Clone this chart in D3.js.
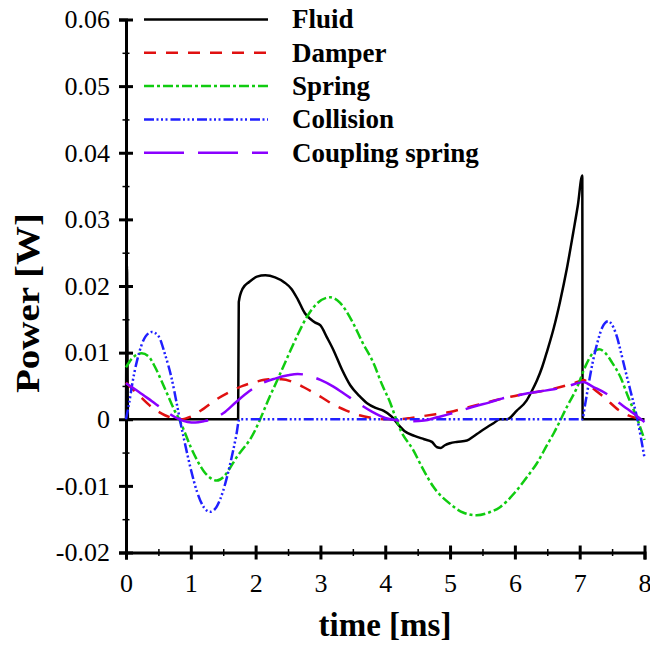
<!DOCTYPE html>
<html>
<head>
<meta charset="utf-8">
<script src="https://cdn.jsdelivr.net/npm/d3@7"></script>
<style>
  body { margin: 0; background: #fff; }
  svg { display: block; }
</style>
</head>
<body>
<script>
// series names and colours
var names = ['Fluid', 'Damper', 'Spring', 'Collision', 'Coupling spring'];

// time [ms] / power [W]
var fluidT = [0, 0.015, 0.03, 1.73, 1.74, 1.8, 1.9, 2.02, 2.15, 2.3, 2.45, 2.55, 2.65, 2.76, 2.85, 2.92, 3.0, 3.1, 3.2, 3.33, 3.46, 3.6, 3.72, 3.85, 3.97, 4.1, 4.2, 4.3, 4.45, 4.6, 4.72, 4.8, 4.86, 4.92, 5.0, 5.1, 5.26, 5.36, 5.46, 5.57, 5.67, 5.77, 5.88, 6.03, 6.18, 6.26, 6.34, 6.42, 6.5, 6.6, 6.7, 6.8, 6.9, 6.97, 7.04, 7.045, 8];
var fluidP = [0, 0.023, 0, 0, 0.0176, 0.0196, 0.0206, 0.0214, 0.0216, 0.0213, 0.0205, 0.0196, 0.018, 0.0159, 0.015, 0.0145, 0.0141, 0.0123, 0.0104, 0.0075, 0.0051, 0.0035, 0.0024, 0.0017, 0.0013, 0.0004, -0.0008, -0.0018, -0.0025, -0.003, -0.0034, -0.0042, -0.0043, -0.0039, -0.0036, -0.0034, -0.0032, -0.0026, -0.0019, -0.0012, -0.0006, 0, 0, 0.0013, 0.0028, 0.0042, 0.0058, 0.0078, 0.0103, 0.0137, 0.0178, 0.0225, 0.028, 0.032, 0.0366, 0, 0];

var damperT = [0, 0.2, 0.4, 0.6, 0.75, 0.85, 1.0, 1.2, 1.4, 1.6, 1.8, 2.0, 2.2, 2.4, 2.6, 2.8, 3.0, 3.2, 3.4, 3.6, 3.8, 4.0, 4.2, 4.4, 4.6, 4.8, 5.0, 5.2, 5.4, 5.6, 5.8, 6.0, 6.2, 6.4, 6.6, 6.8, 7.0, 7.06, 7.2, 7.4, 7.6, 7.8, 8.0];
var damperP = [0.0055, 0.0036, 0.0018, 0.0006, 0.0001, 0, 0.0004, 0.0016, 0.003, 0.0041, 0.005, 0.0056, 0.006, 0.006, 0.0055, 0.0045, 0.0034, 0.0022, 0.0013, 0.0006, 0.0002, 0, 0, 0.0002, 0.0005, 0.0008, 0.0011, 0.0016, 0.0021, 0.0026, 0.0031, 0.0035, 0.0039, 0.0042, 0.0046, 0.0051, 0.0057, 0.0059, 0.0047, 0.0031, 0.0014, 0.0004, 0];

var springT = [0, 0.1, 0.24, 0.35, 0.45, 0.55, 0.65, 0.75, 0.82, 0.9, 1.0, 1.1, 1.2, 1.3, 1.4, 1.5, 1.6, 1.7, 1.8, 1.91, 2.0, 2.07, 2.2, 2.35, 2.5, 2.65, 2.8, 2.95, 3.15, 3.3, 3.5, 3.65, 3.82, 3.95, 4.08, 4.15, 4.23, 4.43, 4.6, 4.74, 5.0, 5.2, 5.41, 5.6, 5.77, 6.0, 6.2, 6.34, 6.5, 6.6, 6.8, 6.96, 7.1, 7.2, 7.3, 7.4, 7.5, 7.63, 7.75, 7.89, 8.0];
var springP = [0.0078, 0.0092, 0.0099, 0.0094, 0.0078, 0.0057, 0.0035, 0.0013, 0, -0.0018, -0.0042, -0.0062, -0.0078, -0.0088, -0.0092, -0.0087, -0.0074, -0.0058, -0.0045, -0.0031, -0.0015, 0, 0.003, 0.0062, 0.0095, 0.0127, 0.0155, 0.0174, 0.0183, 0.0175, 0.0145, 0.0115, 0.0084, 0.0052, 0.0024, 0.0005, -0.0015, -0.0046, -0.0078, -0.0101, -0.0127, -0.014, -0.0144, -0.014, -0.0132, -0.011, -0.0085, -0.0066, -0.0038, -0.0021, 0.0018, 0.0048, 0.0082, 0.0099, 0.0105, 0.0099, 0.0085, 0.0063, 0.0033, 0, -0.0031];

var collisionT = [0, 0.05, 0.1, 0.2, 0.3, 0.4, 0.5, 0.6, 0.7, 0.8, 0.83, 0.9, 1.0, 1.1, 1.2, 1.3, 1.4, 1.5, 1.6, 1.7, 1.75, 2.5, 4.0, 5.5, 7.04, 7.08, 7.14, 7.2, 7.27, 7.35, 7.44, 7.52, 7.58, 7.63, 7.7, 7.78, 7.89, 8.0];
var collisionP = [0, 0.0025, 0.0055, 0.0099, 0.0124, 0.0131, 0.0125, 0.0098, 0.0063, 0.0015, 0, -0.0032, -0.0075, -0.011, -0.0132, -0.0139, -0.0131, -0.0107, -0.007, -0.0025, 0, 0, 0, 0, 0, 0.002, 0.0054, 0.0085, 0.0114, 0.0138, 0.0147, 0.0138, 0.0122, 0.0103, 0.0075, 0.0044, 0, -0.0058];

var couplingT = [0, 0.2, 0.4, 0.6, 0.8, 0.95, 1.07, 1.2, 1.35, 1.5, 1.7, 1.9, 2.1, 2.3, 2.5, 2.65, 2.8, 3.0, 3.2, 3.4, 3.6, 3.8, 4.0, 4.2, 4.4, 4.6, 4.8, 5.0, 5.2, 5.4, 5.6, 5.8, 6.0, 6.2, 6.4, 6.6, 6.8, 7.0, 7.06, 7.2, 7.4, 7.6, 7.8, 8.0];
var couplingP = [0.0054, 0.0041, 0.0027, 0.0013, 0.0001, -0.0004, -0.0005, -0.0003, 0.0001, 0.0009, 0.0026, 0.0042, 0.0054, 0.0061, 0.0066, 0.0068, 0.0066, 0.0059, 0.0049, 0.0036, 0.0023, 0.0011, 0.0002, -0.0002, -0.0003, -0.0002, 0.0003, 0.0008, 0.0014, 0.002, 0.0025, 0.0031, 0.0035, 0.0039, 0.0042, 0.0045, 0.0049, 0.0055, 0.0056, 0.0049, 0.0039, 0.0025, 0.0011, -0.0004];

// ticks
var xTicks = [0, 1, 2, 3, 4, 5, 6, 7, 8];
var xMinor = [0.5, 1.5, 2.5, 3.5, 4.5, 5.5, 6.5, 7.5];
var yTicks = [0.06, 0.05, 0.04, 0.03, 0.02, 0.01, 0, -0.01, -0.02];
var yTickLabels = ['0.06', '0.05', '0.04', '0.03', '0.02', '0.01', '0', '-0.01', '-0.02'];
var yMinor = [0.055, 0.045, 0.035, 0.025, 0.015, 0.005, -0.005, -0.015];

var width = 650, height = 647;
var serif = '"Liberation Serif", "Times New Roman", serif';

var colours = ['#000000', '#e01010', '#10cc10', '#2020ff', '#8a00ff'];
var dashes = [null, '12,10', '10,3,3,3', '10,2.5,2,2.5,2,2.5,2,3', '40,14'];

var x = d3.scaleLinear().domain([0, 8]).range([126, 644.5]);
var y = d3.scaleLinear().domain([-0.02, 0.06]).range([552.5, 19.5]);

var svg = d3.select('body').append('svg')
  .attr('width', width)
  .attr('height', height);

// y axis, major ticks crossing the line
var yAxis = svg.append('g')
  .attr('transform', 'translate(' + x(0) + ',0)')
  .call(d3.axisLeft(y).tickValues(yTicks).tickSizeOuter(0).tickSize(7).tickPadding(9)
    .tickFormat(function (d, i) { return yTickLabels[i]; }));
yAxis.select('.domain').attr('stroke-width', 3);
yAxis.selectAll('.tick line').attr('x1', -7).attr('x2', 7).attr('stroke-width', 3);
yAxis.selectAll('.tick text').attr('font-family', serif).attr('font-size', 26).attr('fill', '#000');

var yMin = svg.append('g')
  .attr('transform', 'translate(' + x(0) + ',0)')
  .call(d3.axisLeft(y).tickValues(yMinor).tickSizeOuter(0).tickFormat(''));
yMin.select('.domain').remove();
yMin.selectAll('.tick line').attr('x1', -3.5).attr('x2', 3.5).attr('stroke-width', 1.5);

// x axis
var xAxis = svg.append('g')
  .attr('transform', 'translate(0,' + y(-0.02) + ')')
  .call(d3.axisBottom(x).tickValues(xTicks).tickSizeOuter(0).tickSize(7).tickPadding(14));
xAxis.select('.domain').attr('stroke-width', 3);
xAxis.selectAll('.tick line').attr('y1', -7).attr('y2', 7).attr('stroke-width', 3);
xAxis.selectAll('.tick text').attr('font-family', serif).attr('font-size', 26).attr('fill', '#000');

var xMin = svg.append('g')
  .attr('transform', 'translate(0,' + y(-0.02) + ')')
  .call(d3.axisBottom(x).tickValues(xMinor).tickSizeOuter(0).tickFormat(''));
xMin.select('.domain').remove();
xMin.selectAll('.tick line').attr('y1', -3.5).attr('y2', 3.5).attr('stroke-width', 1.5);

// axis titles
svg.append('text')
  .attr('x', 385).attr('y', 636)
  .attr('text-anchor', 'middle')
  .attr('font-family', serif).attr('font-weight', 'bold').attr('font-size', 33)
  .text('time [ms]');

svg.append('text')
  .attr('transform', 'translate(38.5,303) rotate(-90)')
  .attr('text-anchor', 'middle')
  .attr('font-family', serif).attr('font-weight', 'bold').attr('font-size', 33)
  .attr('textLength', 180).attr('lengthAdjust', 'spacingAndGlyphs')
  .text('Power [W]');

// curves
var series = [
  [fluidT, fluidP],
  [damperT, damperP],
  [springT, springP],
  [collisionT, collisionP],
  [couplingT, couplingP]
];

var line = d3.line()
  .x(function (d) { return x(d[0]); })
  .y(function (d) { return y(d[1]); })
  .curve(d3.curveMonotoneX);

series.forEach(function (s, i) {
  var pts = s[0].map(function (t, j) { return [t, s[1][j]]; });
  svg.append('path')
    .datum(pts)
    .attr('d', line)
    .attr('fill', 'none')
    .attr('stroke', colours[i])
    .attr('stroke-width', 2.5)
    .attr('stroke-dasharray', dashes[i]);
});

// legend
var legend = svg.append('g');
names.forEach(function (n, i) {
  var ly = 19.5 + i * 33.3;
  legend.append('line')
    .attr('x1', 144).attr('x2', 268)
    .attr('y1', ly).attr('y2', ly)
    .attr('stroke', colours[i])
    .attr('stroke-width', 2.5)
    .attr('stroke-dasharray', dashes[i]);
  legend.append('text')
    .attr('x', 292).attr('y', ly).attr('dy', '0.33em')
    .attr('font-family', serif).attr('font-weight', 'bold').attr('font-size', 27)
    .text(n);
});
</script>
</body>
</html>
